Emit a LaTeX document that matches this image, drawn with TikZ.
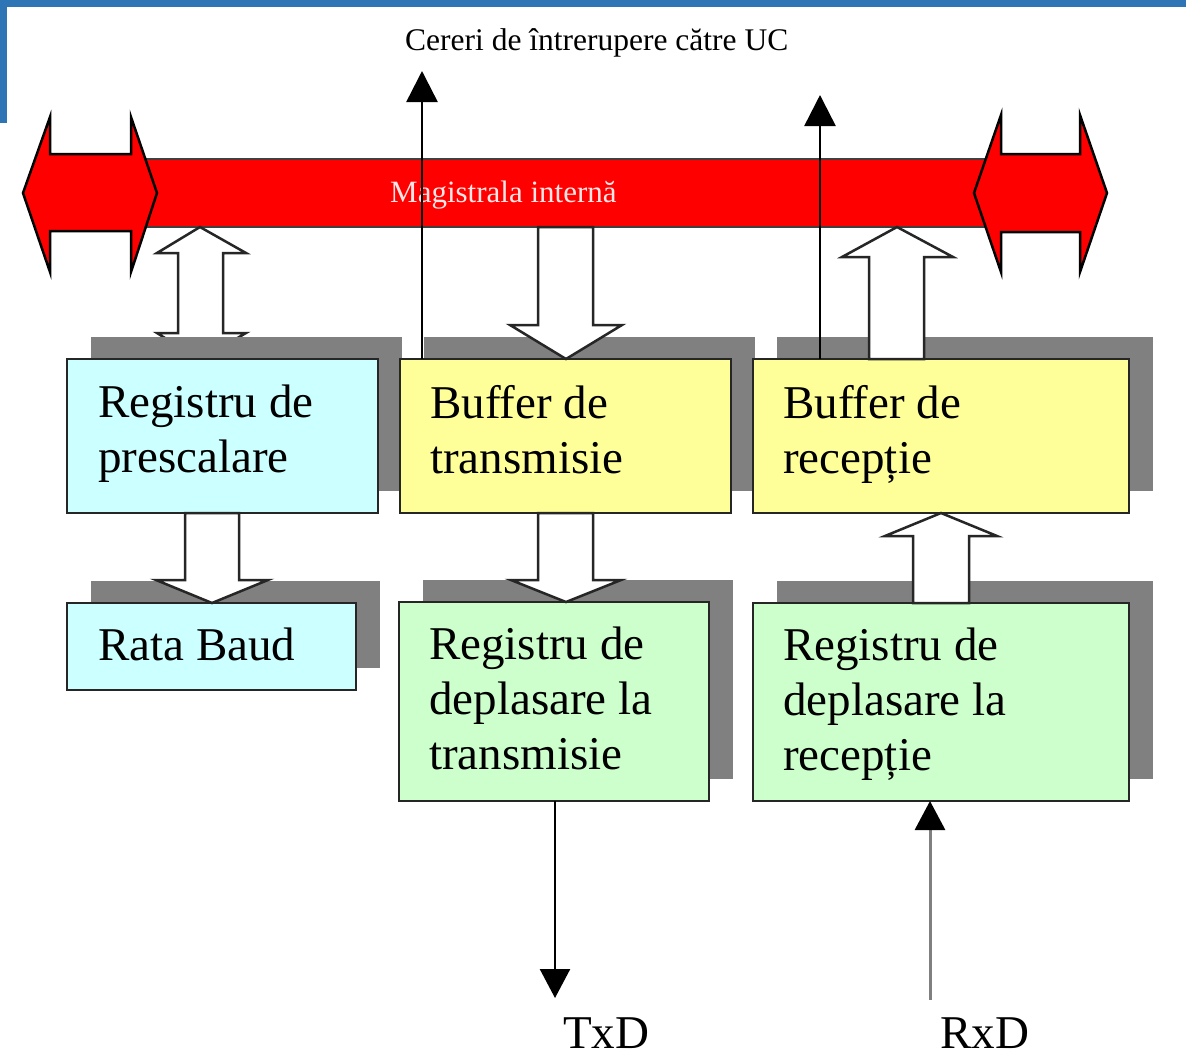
\documentclass[tikz,border=0pt]{standalone}
\usepackage{fontspec}
\setmainfont{Liberation Serif}
\usetikzlibrary{arrows.meta,shadows}
\definecolor{topblue}{HTML}{2E75B6}
\definecolor{busred}{HTML}{FF0000}
\definecolor{cyanbox}{HTML}{CCFFFF}
\definecolor{yellowbox}{HTML}{FFFF99}
\definecolor{greenbox}{HTML}{CCFFCC}
\definecolor{shadowgray}{HTML}{808080}
\definecolor{edge}{HTML}{262626}
\definecolor{bustext}{HTML}{FFE6E6}
\tikzset{
  regbox/.style={draw=edge, line width=2.5pt, rectangle, inner sep=0pt, outer sep=0pt, anchor=north west,
    drop shadow={shadow xshift=24pt, shadow yshift=22pt, fill=shadowgray, opacity=1}},
  boxlabel/.style={anchor=north west, inner sep=0pt, align=left, font=\fontsize{47}{55}\selectfont},
  blockarrow/.style={draw=edge, fill=white, line width=2.5pt},
  irq/.style={draw=black, line width=2.5pt, -{Triangle[width=31pt,length=31pt]}},
  endarrow/.style={fill=busred, draw=black, line width=2.5pt},
}
\begin{document}
\begin{tikzpicture}[x=1pt,y=-1pt]
\useasboundingbox (0,0) rectangle (1186,1060);
\fill[white] (0,0) rectangle (1186,1060);
\fill[topblue] (0,0) rectangle (1186,7);
\fill[topblue] (0,0) rectangle (7,123);

% internal bus
\node[draw=black!75, line width=2.5pt, fill=busred, minimum width=850pt, minimum height=68pt,
      anchor=north west, inner sep=0pt, outer sep=0pt] (bus) at (140,159) {};
\filldraw[endarrow] (23,193) -- (50,117) -- (50,154) -- (131,154) -- (131,117) -- (157,193)
   -- (131,272) -- (131,231) -- (50,231) -- (50,272) -- cycle;
\filldraw[endarrow] (974,193) -- (1001,115) -- (1001,154) -- (1080,154) -- (1080,115) -- (1107,193)
   -- (1080,272) -- (1080,232) -- (1001,232) -- (1001,272) -- cycle;
\node[anchor=base west, inner sep=0pt, text=bustext, font=\fontsize{31}{36}\selectfont] (bustxt)
   at (390,202) {Magistrala internă};

\node[anchor=base west, inner sep=0pt, font=\fontsize{31.5}{36}\selectfont] (irqtxt)
   at (405,50) {Cereri de întrerupere către UC};

% double block arrow (prescalare <-> bus), lower head hidden by shadow
\draw[blockarrow] (200,0 |- bus.south) -- (246,253) -- (223,253) -- (223,333) -- (246,333) -- (200,360)
   -- (157,333) -- (178,333) -- (178,253) -- (157,253) -- cycle;

% boxes
\node[regbox, fill=cyanbox, minimum width=311pt, minimum height=154pt] (pres) at (67,359) {};
\node[boxlabel] (pres-t) at ([xshift=31pt,yshift=-26pt]pres.north west) {Registru de\\prescalare};

\node[regbox, fill=cyanbox, minimum width=289pt, minimum height=87pt] (baud) at (67,603) {};
\node[boxlabel] (baud-t) at ([xshift=31pt,yshift=-25pt]baud.north west) {Rata Baud};

\node[regbox, fill=yellowbox, minimum width=331pt, minimum height=154pt] (btx) at (400,359) {};
\node[boxlabel] (btx-t) at ([xshift=30pt,yshift=-26pt]btx.north west) {Buffer de\\transmisie};

\node[regbox, fill=yellowbox, minimum width=376pt, minimum height=154pt] (brx) at (753,359) {};
\node[boxlabel] (brx-t) at ([xshift=30pt,yshift=-26pt]brx.north west) {Buffer de\\recepție};

\node[regbox, fill=greenbox, minimum width=310pt, minimum height=199pt] (stx) at (399,602) {};
\node[boxlabel] (stx-t) at ([xshift=30pt,yshift=-25pt]stx.north west) {Registru de\\deplasare la\\transmisie};

\node[regbox, fill=greenbox, minimum width=376pt, minimum height=198pt] (srx) at (753,603) {};
\node[boxlabel] (srx-t) at ([xshift=30pt,yshift=-25pt]srx.north west) {Registru de\\deplasare la\\recepție};

% block arrows
\draw[blockarrow] (538,0 |- bus.south) -- (593,0 |- bus.south) -- (593,325) -- (622,325)
   -- (566,0 |- btx.north) -- (510,325) -- (538,325) -- cycle;
\draw[blockarrow] (897,0 |- bus.south) -- (953,257) -- (924,257) -- (924,0 |- brx.north)
   -- (869,0 |- brx.north) -- (869,257) -- (842,257) -- cycle;
\draw[blockarrow] (185,0 |- pres.south) -- (239,0 |- pres.south) -- (239,580) -- (268,580)
   -- (212,0 |- baud.north) -- (156,580) -- (185,580) -- cycle;
\draw[blockarrow] (538,0 |- btx.south) -- (593,0 |- btx.south) -- (593,580) -- (621,580)
   -- (566,0 |- stx.north) -- (511,580) -- (538,580) -- cycle;
\draw[blockarrow] (941,0 |- brx.south) -- (997,536) -- (969,536) -- (969,0 |- srx.north)
   -- (913,0 |- srx.north) -- (913,536) -- (885,536) -- cycle;

% interrupt request lines
\coordinate (irqL) at (422,71);
\coordinate (irqR) at (820,95);
\draw[irq] (422,0 |- btx.north) -- (irqL);
\draw[irq] (820,0 |- brx.north) -- (irqR);

% serial lines
\node[anchor=base west, inner sep=0pt, font=\fontsize{47}{55}\selectfont] (txd) at (563,1048) {TxD};
\node[anchor=base west, inner sep=0pt, font=\fontsize{47}{55}\selectfont] (rxd) at (940,1048) {RxD};
\coordinate (txtip) at (555,998);
\coordinate (rxfoot) at (930,1000);
\draw[irq, -{Triangle[width=30pt,length=29pt]}] (555,0 |- stx.south) -- (txtip);
\draw[line width=3pt, draw=shadowgray, -{Triangle[width=30pt,length=29pt,color=black]}] (rxfoot) -- (930,0 |- srx.south);
\end{tikzpicture}
\end{document}
